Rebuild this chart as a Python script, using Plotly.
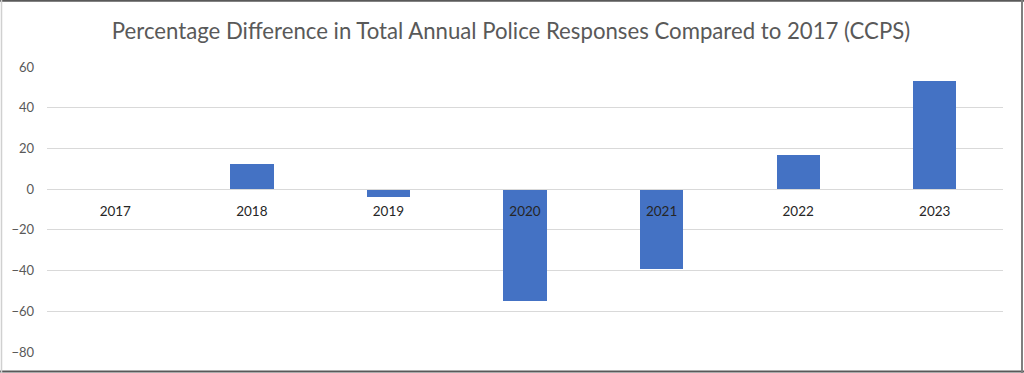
import plotly.graph_objects as go

years = ["2017", "2018", "2019", "2020", "2021", "2022", "2023"]
pct_diff = [0, 12.3, -4.1, -54.9, -39.4, 16.9, 53.3]
y_ticks = [-80, -60, -40, -20, 0, 20, 40, 60]

title_text = "Percentage Difference in Total Annual Police Responses Compared to 2017 (CCPS)"

W, H = 1024, 373
ML, MR, MT, MB = 47, 21, 67, 21
ymin, ymax = -80, 60

fig = go.Figure()
fig.add_trace(go.Bar(
    x=years, y=pct_diff,
    marker=dict(color="#4472C4", line=dict(width=0)),
    width=0.317,
    hoverinfo="x+y",
))

pw = W - ML - MR
ph = H - MT - MB

def px_x(p):
    return (p - ML) / pw

def px_y(p):
    return (H - MB - p) / ph

fig.update_layout(
    width=W, height=H,
    margin=dict(l=ML, r=MR, t=MT, b=MB, pad=0, autoexpand=False),
    paper_bgcolor="white",
    plot_bgcolor="white",
    showlegend=False,
    bargap=0,
    title=dict(
        text=title_text,
        x=511 / W, xref="container", xanchor="center",
        y=1 - 31 / H, yref="container", yanchor="middle",
        font=dict(family="Lato, 'Open Sans', sans-serif", size=22.2, color="#595959"),
    ),
    xaxis=dict(
        type="category",
        anchor="free",
        position=(0 - ymin) / (ymax - ymin),
        showline=True, linecolor="#D9D9D9", linewidth=1,
        showgrid=False, ticks="",
        tickfont=dict(family="Lato, 'Open Sans', sans-serif", size=13.5, color="#262626"),
        ticklabelstandoff=10,
        range=[-0.5, 6.5],
        fixedrange=True,
        automargin=False,
    ),
    yaxis=dict(
        range=[ymin, ymax],
        tickvals=y_ticks,
        showgrid=True, gridcolor="#D9D9D9", gridwidth=1,
        zeroline=False,
        showline=False, ticks="",
        tickfont=dict(family="Lato, 'Open Sans', sans-serif", size=13, color="#595959"),
        ticklabelstandoff=12,
        fixedrange=True,
        automargin=False,
    ),
    shapes=[
        dict(type="line", xref="paper", yref="paper",
             x0=px_x(0), x1=px_x(W), y0=px_y(0.8), y1=px_y(0.8),
             line=dict(color="#595959", width=2)),
        dict(type="line", xref="paper", yref="paper",
             x0=px_x(0), x1=px_x(W), y0=px_y(371.5), y1=px_y(371.5),
             line=dict(color="#595959", width=2)),
        dict(type="line", xref="paper", yref="paper",
             x0=px_x(1022), x1=px_x(1022), y0=px_y(0), y1=px_y(H),
             line=dict(color="#7F7F7F", width=2)),
        dict(type="line", xref="paper", yref="paper",
             x0=px_x(1.5), x1=px_x(1.5), y0=px_y(0), y1=px_y(H),
             line=dict(color="#D0D0D0", width=1.5)),
    ],
)

fig.write_html(
    "out.html",
    config={"displayModeBar": False},
    post_script="document.body.style.margin='0';document.body.style.overflow='hidden';",
)
